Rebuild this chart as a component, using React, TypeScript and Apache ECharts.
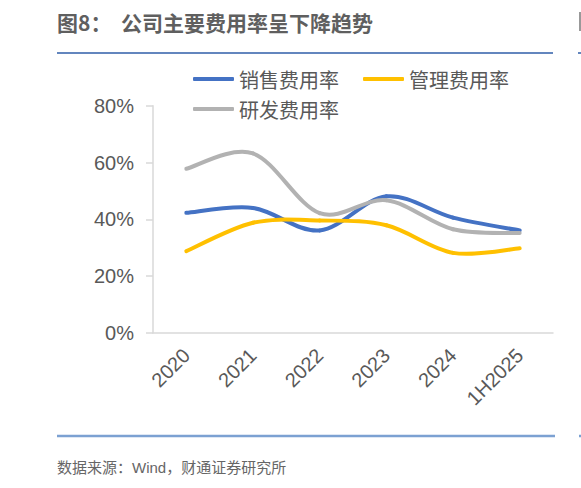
import { useRef, useEffect } from "react";
import * as echarts from "echarts";

const categories = ["2020", "2021", "2022", "2023", "2024", "1H2025"];
const salesRate = [42.3, 44.0, 36.1, 48.1, 40.6, 36.1];
const adminRate = [28.8, 38.8, 39.6, 37.9, 28.2, 29.8];
const rdRate = [57.8, 63.2, 42.2, 46.7, 36.5, 35.2];

const BLUE = "#4472c4";
const YELLOW = "#ffc000";
const GRAY = "#b2b2b2";
const TEXT = "#595959";
const FONT = "'Liberation Sans', 'Noto Sans CJK SC', sans-serif";
const CJK = "'Noto Sans CJK SC', sans-serif";

// Excel-style smoothed line: each item draws its bezier segment to the next point
function smoothSeries(name: string, values: number[], color: string) {
  return {
    name,
    type: "custom" as const,
    data: values.map((v, i) => [i, v]),
    encode: { x: 0, y: 1 },
    itemStyle: { color },
    renderItem: (params: any, api: any) => {
      const i = params.dataIndex;
      const n = values.length;
      if (i >= n - 1) return null;
      const pt = (k: number) => {
        const j = Math.max(0, Math.min(n - 1, k));
        return api.coord([j, values[j]]);
      };
      const p0 = pt(i - 1);
      const p1 = pt(i);
      const p2 = pt(i + 1);
      const p3 = pt(i + 2);
      const c1 = [p1[0] + (p2[0] - p0[0]) / 6, p1[1] + (p2[1] - p0[1]) / 6];
      const c2 = [p2[0] - (p3[0] - p1[0]) / 6, p2[1] - (p3[1] - p1[1]) / 6];
      return {
        type: "path",
        shape: {
          pathData: `M${p1[0]},${p1[1]} C${c1[0]},${c1[1]} ${c2[0]},${c2[1]} ${p2[0]},${p2[1]}`,
        },
        style: { fill: "none", stroke: color, lineWidth: 4, lineCap: "round" },
      };
    },
  };
}

export default function App() {
  const containerRef = useRef<HTMLDivElement>(null);

  useEffect(() => {
    document.body.style.margin = "0";
    if (!containerRef.current) return;
    const chart = echarts.init(containerRef.current, undefined, { renderer: "svg" });

    const legendBase = {
      left: 188,
      icon: "roundRect",
      itemWidth: 41,
      itemHeight: 4,
      itemGap: 24,
      textStyle: { color: TEXT, fontSize: 20, fontFamily: CJK },
    };

    const option: echarts.EChartsOption = {
      animation: false,
      backgroundColor: "#fff",
      title: {
        text: "图8：  公司主要费用率呈下降趋势",
        left: 52,
        top: 6,
        textStyle: { color: "#5f5f5f", fontSize: 21, fontWeight: "bold", fontFamily: CJK },
      },
      legend: [
        { ...legendBase, top: 64, data: ["销售费用率", "管理费用率"] },
        { ...legendBase, top: 94, data: ["研发费用率"] },
      ],
      grid: { left: 153, right: 28, top: 105.7, bottom: 155 },
      xAxis: {
        type: "category",
        data: categories,
        axisLine: { lineStyle: { color: "#d9d9d9", width: 1.5 } },
        axisTick: { show: false },
        axisLabel: { color: TEXT, fontSize: 20, fontFamily: FONT, rotate: 45, margin: 19, interval: 0 },
      },
      yAxis: {
        type: "value",
        min: 0,
        max: 80,
        interval: 20,
        axisLine: { show: true, lineStyle: { color: "#d9d9d9", width: 1.5 } },
        axisTick: { show: true, inside: false, length: 7, lineStyle: { color: "#d9d9d9", width: 1.5 } },
        splitLine: { show: false },
        axisLabel: { color: TEXT, fontSize: 20, fontFamily: FONT, margin: 19, formatter: "{value}%" },
      },
      graphic: [
        { type: "line", shape: { x1: 57, y1: 53, x2: 553, y2: 53 }, style: { stroke: "#2f5ea8", lineWidth: 1.5 } },
        { type: "line", shape: { x1: 57, y1: 436, x2: 555, y2: 436 }, style: { stroke: "#7ca1d2", lineWidth: 2.5 } },
        { type: "line", shape: { x1: 578, y1: 53, x2: 581, y2: 53 }, style: { stroke: "#2f5ea8", lineWidth: 1.5 } },
        { type: "line", shape: { x1: 579, y1: 436, x2: 581, y2: 436 }, style: { stroke: "#7ca1d2", lineWidth: 2.5 } },
        { type: "rect", shape: { x: 579, y: 12, width: 2, height: 19 }, style: { fill: "#999" } },
        {
          type: "text",
          left: 57,
          top: 460,
          style: { text: "数据来源：Wind，财通证券研究所", fill: "#666", fontSize: 15, fontFamily: FONT },
        },
      ],
      series: [
        smoothSeries("销售费用率", salesRate, BLUE),
        smoothSeries("管理费用率", adminRate, YELLOW),
        smoothSeries("研发费用率", rdRate, GRAY),
      ] as any,
    };

    chart.setOption(option);
    return () => chart.dispose();
  }, []);

  return <div ref={containerRef} style={{ width: 581, height: 488 }} />;
}
